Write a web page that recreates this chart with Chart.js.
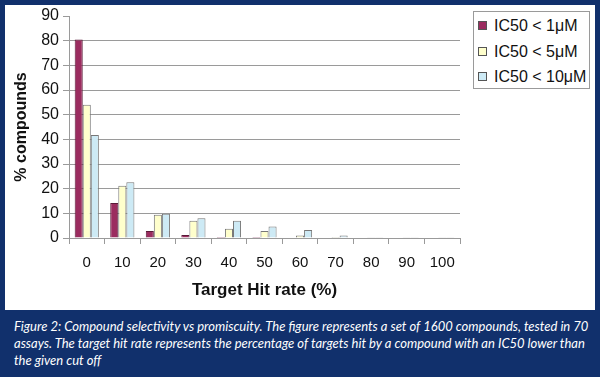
<!DOCTYPE html>
<html>
<head>
<meta charset="utf-8">
<script src="https://cdn.jsdelivr.net/npm/chart.js@4.4.0/dist/chart.umd.min.js"></script>
<style>
  html, body { margin: 0; padding: 0; background: #fff; }
  #frame { position: relative; width: 600px; height: 377px; background: #11306c; overflow: hidden; }
  #panel { position: absolute; left: 5px; top: 5px; width: 590px; height: 305px; background: #ffffff; }
  #chartBox { position: absolute; left: 0; top: 0; width: 600px; height: 310px; }
  #legend { position: absolute; left: 473px; top: 11px; width: 115px; height: 76px; border: 1px solid #9a9a9a; background: #fff;
            font-family: "Liberation Sans", Arial, sans-serif; font-size: 16px; color: #111; }
  .lg-row { position: absolute; left: 4px; height: 20px; line-height: 20px; white-space: nowrap; }
  .lg-sw { display: inline-block; width: 7px; height: 7px; border: 1px solid #555; vertical-align: middle; margin-right: 7px; position: relative; top: -1px; }
  #caption { position: absolute; left: 14px; top: 318px; color: #ffffff; font-family: Lato, "Open Sans", sans-serif; font-style: italic;
             font-size: 13px; line-height: 17px; white-space: nowrap; }
</style>
</head>
<body>
<div id="frame">
  <div id="panel"></div>
  <div id="chartBox"><canvas id="c" width="600" height="310"></canvas></div>
  <div id="legend"></div>
  <div id="caption"></div>
</div>
<script>
const categories = ["0", "10", "20", "30", "40", "50", "60", "70", "80", "90", "100"];
const seriesNames = ["IC50 < 1μM", "IC50 < 5μM", "IC50 < 10μM"];
const ic50_1uM  = [80.5, 14.2, 2.8, 1.2, 0.4, 0.4, 0, 0, 0, 0, 0];
const ic50_5uM  = [54.0, 21.2, 9.4, 7.0, 3.7, 2.8, 1.0, 0.4, 0.3, 0.3, 0.3];
const ic50_10uM = [41.8, 22.6, 9.8, 8.0, 7.0, 4.7, 3.2, 1.0, 0.3, 0.3, 0.3];
const yTicks = [0, 10, 20, 30, 40, 50, 60, 70, 80, 90];
const captionLines = [
  "Figure 2: Compound selectivity vs promiscuity. The figure represents a set of 1600 compounds, tested in 70",
  "assays. The target hit rate represents the percentage of targets hit by a compound with an IC50 lower than",
  "the given cut off"
];

const fills = ["#9b2c5f", "#ffffcc", "#cdeaf5"];
const strokes = ["#5a1a38", "#777777", "#777777"];
const seriesData = [ic50_1uM, ic50_5uM, ic50_10uM];

// Legend (HTML text)
const legend = document.getElementById('legend');
seriesNames.forEach((n, i) => {
  const row = document.createElement('div');
  row.className = 'lg-row';
  row.style.top = (4 + i * 25.5) + 'px';
  const sw = document.createElement('span');
  sw.className = 'lg-sw';
  sw.style.background = fills[i];
  row.appendChild(sw);
  row.appendChild(document.createTextNode(n));
  legend.appendChild(row);
});

document.getElementById('caption').innerHTML = captionLines.map(l => l.replace(/&/g,'&amp;').replace(/</g,'&lt;')).join('<br>');

const font = "'Liberation Sans', Arial, sans-serif";

new Chart(document.getElementById('c'), {
  type: 'bar',
  data: {
    labels: categories,
    datasets: seriesNames.map((n, i) => ({
      label: n,
      data: seriesData[i],
      backgroundColor: fills[i],
      borderColor: strokes[i],
      borderWidth: 1,
      categoryPercentage: 0.68,
      barPercentage: 1.0
    }))
  },
  options: {
    responsive: false,
    animation: false,
    layout: { padding: { left: 0, right: 140, top: 16, bottom: 0 } },
    plugins: { legend: { display: false }, tooltip: { enabled: false } },
    scales: {
      x: {
        grid: { offset: true, drawOnChartArea: false, tickLength: 6, color: '#9a9a9a', lineWidth: 1 },
        border: { display: true, color: '#9a9a9a', width: 1 },
        ticks: { color: '#111', font: { family: font, size: 15 }, padding: 10, maxRotation: 0, autoSkip: false },
        title: { display: true, text: 'Target Hit rate (%)', color: '#111', font: { family: font, size: 17, weight: 'bold' }, padding: { top: 4, bottom: 9 } },
        afterFit: (s) => { s.height = 72; }
      },
      y: {
        min: 0, max: 90,
        afterBuildTicks: (s) => { s.ticks = yTicks.map(v => ({ value: v })); },
        grid: {
          color: (ctx) => (ctx.tick && ctx.tick.value === 90) ? 'rgba(0,0,0,0)' : '#9a9a9a',
          tickColor: '#9a9a9a', tickLength: 6, lineWidth: 1
        },
        border: { display: true, color: '#9a9a9a', width: 1 },
        ticks: { color: '#111', font: { family: font, size: 16 }, padding: 4 },
        title: { display: true, text: '% compounds', color: '#111', font: { family: font, size: 16, weight: 'bold' }, padding: { top: 12, bottom: 0 } },
        afterFit: (s) => { s.width = 69; }
      }
    }
  }
});
</script>
</body>
</html>
